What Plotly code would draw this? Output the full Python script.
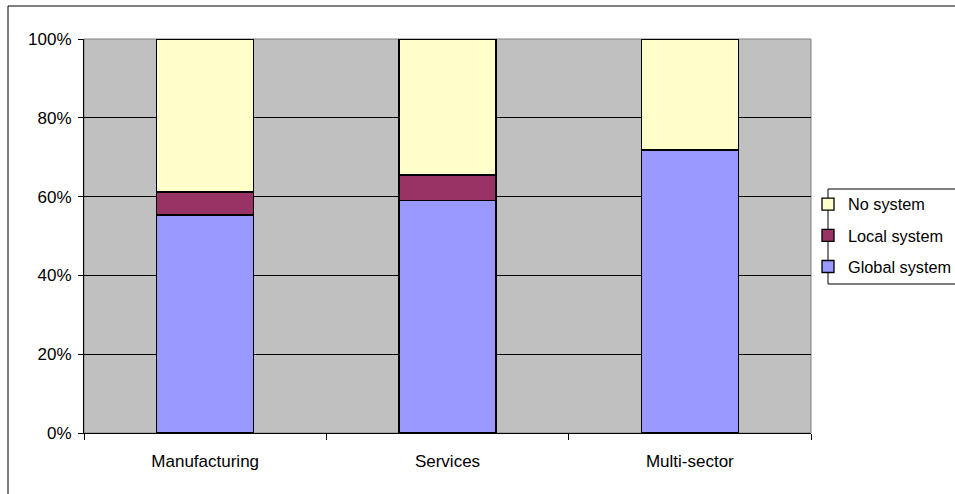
import plotly.graph_objects as go

categories = ["Manufacturing", "Services", "Multi-sector"]
global_system = [55.3, 59.1, 71.8]
local_system = [5.9, 6.4, 0.0]
no_system = [38.8, 34.5, 28.2]

tick_vals = [0, 20, 40, 60, 80, 100]
tick_text = ["0%", "20%", "40%", "60%", "80%", "100%"]

W, H = 955, 494
L, R, T, B = 84, 144, 39, 61
pw, ph = W - L - R, H - T - B


def px_x(x):
    return (x - L) / pw


def px_y(y):
    return (H - B - y) / ph


FAMILY = "Liberation Sans, Arial, sans-serif"
font = dict(family=FAMILY, size=17, color="black")
legend_font = dict(family=FAMILY, size=16.3, color="black")
bar_line = dict(color="black", width=1.3)

fig = go.Figure()
for rank, (name, vals, color) in enumerate([("Global system", global_system, "#9999FF"),
                                            ("Local system", local_system, "#993366"),
                                            ("No system", no_system, "#FFFFCC")]):
    fig.add_trace(go.Bar(name=name, x=categories, y=vals, legendgroup=name,
                         legendrank=3 - rank,
                         marker=dict(color=color, line=bar_line)))

# outer chart frame
fig.add_shape(type="rect", xref="paper", yref="paper",
              x0=px_x(8), x1=px_x(W + 10), y0=px_y(H + 10), y1=px_y(6),
              line=dict(color="black", width=1), layer="below")
# plot area border
fig.add_shape(type="rect", xref="paper", yref="paper", x0=0, x1=1, y0=0, y1=1,
              line=dict(color="#808080", width=1), layer="below")
# legend frame
fig.add_shape(type="rect", xref="paper", yref="paper",
              x0=px_x(828), x1=px_x(W + 10), y0=px_y(284), y1=px_y(189),
              line=dict(color="black", width=1), fillcolor="white", layer="below")

fig.update_layout(
    width=W, height=H,
    margin=dict(l=L, r=R, t=T, b=B, autoexpand=False),
    barmode="stack", bargap=0.6,
    plot_bgcolor="#C0C0C0", paper_bgcolor="white",
    font=font,
    showlegend=True,
    legend=dict(x=px_x(808), xanchor="left", y=px_y(187), yanchor="top",
                traceorder="grouped", tracegroupgap=7,
                bgcolor="rgba(0,0,0,0)", borderwidth=0,
                font=legend_font, itemwidth=30),
    xaxis=dict(showline=True, linecolor="black", linewidth=1,
               ticks="outside", tickson="boundaries", ticklen=6, tickcolor="black",
               ticklabelstandoff=13, showgrid=False),
    yaxis=dict(range=[0, 100], tickvals=tick_vals, ticktext=tick_text,
               showline=True, linecolor="black", linewidth=1,
               ticks="outside", ticklen=5, tickcolor="black", ticklabelstandoff=3,
               showgrid=True, gridcolor="black", gridwidth=1, zeroline=False),
)

fig.write_html("out.html")
